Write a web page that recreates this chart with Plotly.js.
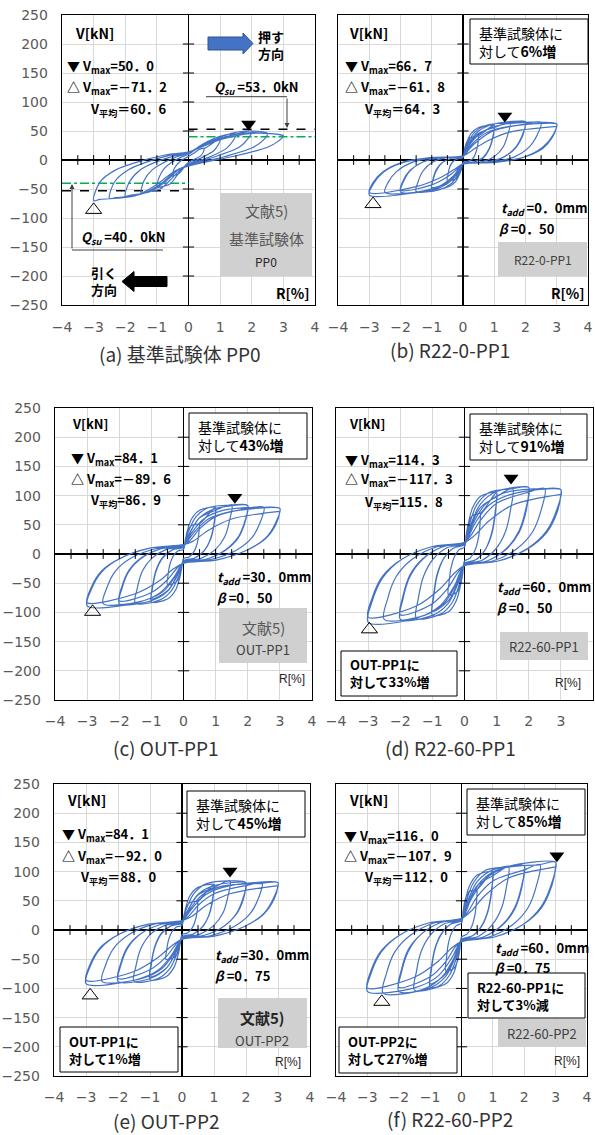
<!DOCTYPE html>
<html><head><meta charset="utf-8">
<script src="https://cdn.plot.ly/plotly-3.0.1.min.js"></script>
<style>body{margin:0;background:#fff}</style>
</head><body><div id="chart" style="width:595px;height:1135px"></div>
<script>
// ---------------- data ----------------
const xTickVals = [-4,-3,-2,-1,0,1,2,3,4];
const yTickVals = [-250,-200,-150,-100,-50,0,50,100,150,200,250];
const minorR = [-3.5,-3,-2.5,-2,-1.5,-1,-0.5,0.5,1,1.5,2,2.5,3,3.5];
const minorV = [-200,-150,-100,-50,50,100,150,200];

// (a) 基準試験体 PP0
const R_a = [0.5,0.47,0.4,0.22,0.07,-0.08,-0.2,-0.32,-0.47,-0.5,-0.47,-0.38,-0.26,-0.11,0,0.18,0.33,0.45,0.5,
 1,0.95,0.8,0.45,0.15,-0.15,-0.38,-0.6,-0.93,-1,-0.93,-0.77,-0.53,-0.23,0,0.35,0.65,0.9,1,
 1.5,1.42,1.2,0.7,0.2,-0.2,-0.55,-0.9,-1.4,-1.5,-1.4,-1.15,-0.8,-0.35,0,0.5,1.0,1.35,1.5,
 2,1.9,1.6,0.9,0.3,-0.3,-0.7,-1.2,-1.85,-2,-1.87,-1.55,-1.1,-0.45,0,0.7,1.35,1.8,2,
 2.5,2.38,2.05,1.15,0.35,-0.35,-0.85,-1.45,-2.3,-2.5,-2.33,-1.9,-1.4,-0.6,0,0.85,1.7,2.25,2.5,
 3,2.85,2.5,1.4,0.4,-0.4,-1,-1.7,-2.8,-3,-2.8,-2.3,-1.7,-0.7,0,1,2,2.7,3];
const V_a = [20,14,8,2,-2,-8,-17,-24,-27,-28,-17,-9,-2,3,6,12,18,20,20,
 36,27,16,5,-3,-12,-28,-42,-47,-48,-30,-15,-4,5,10,23,33,36,36,
 45,34,20,6,-4,-14,-33,-50,-56,-57,-35,-17,-5,6,12,29,41,45,45,
 50,38,22,7,-4,-16,-36,-54,-61,-62,-38,-18,-5,7,13,32,46,50,50,
 46,35,22,6,-5,-17,-40,-58,-65,-66,-37,-17,-5,8,13,34,46,47,46,
 42,33,22,6,-5,-18,-42,-62,-68,-70,-38,-17,-5,9,14,35,46,45,42];

// drift path of the loops in (b)-(f): 0.5, 1, 1(repeat), 1.5, 2, 2(repeat), 2.5, 3, 3(repeat) %
const R_pinch = [0.5,0.48,0.425,0.325,0.175,0,-0.05,-0.125,-0.25,-0.5,-0.48,-0.425,-0.325,-0.175,0,0.05,0.125,0.25,0.5,
 1,0.96,0.85,0.65,0.35,0,-0.1,-0.25,-0.5,-1,-0.96,-0.85,-0.65,-0.35,0,0.1,0.25,0.5,1,
 1,0.96,0.85,0.65,0.35,0,-0.1,-0.25,-0.5,-1,-0.96,-0.85,-0.65,-0.35,0,0.1,0.25,0.5,1,
 1.5,1.44,1.28,0.98,0.53,0,-0.15,-0.38,-0.75,-1.5,-1.44,-1.28,-0.98,-0.53,0,0.15,0.38,0.75,1.5,
 2,1.92,1.7,1.3,0.7,0,-0.2,-0.5,-1,-2,-1.92,-1.7,-1.3,-0.7,0,0.2,0.5,1,2,
 2,1.92,1.7,1.3,0.7,0,-0.2,-0.5,-1,-2,-1.92,-1.7,-1.3,-0.7,0,0.2,0.5,1,2,
 2.5,2.4,2.13,1.63,0.88,0,-0.25,-0.63,-1.25,-2.5,-2.4,-2.13,-1.63,-0.88,0,0.25,0.63,1.25,2.5,
 3,2.88,2.55,1.95,1.05,0,-0.3,-0.75,-1.5,-3,-2.88,-2.55,-1.95,-1.05,0,0.3,0.75,1.5,3,
 3,2.88,2.55,1.95,1.05,0,-0.3,-0.75,-1.5,-3,-2.88,-2.55,-1.95,-1.05,0,0.3,0.75,1.5,3];
// (b) R22-0-PP1
const V_b = [42,29,15,3,-2,-4,-16,-26,-33,-35,-25,-12,-3,2,4,19,32,39,42,
 60,42,21,5,-3,-5,-23,-38,-47,-50,-35,-18,-4,3,5,27,45,56,60,
 56,39,20,4,-3,-5,-14,-26,-39,-47,-33,-16,-4,3,5,17,31,46,56,
 64,45,22,5,-4,-6,-24,-41,-51,-54,-38,-19,-4,4,6,29,48,60,64,
 66,46,23,5,-4,-6,-25,-41,-52,-55,-39,-19,-4,4,6,30,50,62,66,
 62,43,22,5,-4,-6,-16,-29,-43,-52,-36,-18,-4,4,6,19,34,51,62,
 65,46,23,5,-4,-7,-25,-42,-53,-56,-39,-20,-4,4,7,29,49,61,65,
 62,43,22,5,-4,-7,-27,-45,-56,-60,-42,-21,-5,4,7,28,47,58,62,
 58,41,20,5,-4,-7,-17,-31,-46,-56,-39,-20,-4,4,7,17,32,48,58];
// (c) OUT-PP1
const V_c = [52,36,18,4,-5,-8,-23,-39,-49,-52,-36,-18,-4,5,8,23,39,49,52,
 80,56,28,6,-7,-12,-37,-62,-77,-82,-57,-29,-7,7,12,36,60,75,80,
 75,53,26,6,-7,-12,-23,-42,-63,-77,-54,-27,-6,7,12,23,41,62,75,
 84,59,29,7,-8,-14,-38,-63,-79,-84,-59,-29,-7,8,14,38,63,79,84,
 83,58,29,7,-9,-15,-38,-64,-80,-85,-60,-30,-7,9,15,37,62,78,83,
 78,55,27,6,-9,-15,-24,-44,-66,-80,-56,-28,-6,9,15,23,43,64,78,
 80,56,28,6,-9,-15,-38,-64,-80,-85,-60,-30,-7,9,15,36,60,75,80,
 78,55,27,6,-10,-16,-40,-67,-84,-89,-62,-31,-7,10,16,35,59,73,78,
 73,51,26,6,-10,-16,-25,-46,-68,-83,-58,-29,-7,10,16,22,40,60,73];
// (d) R22-60-PP1
const V_d = [70,49,25,6,-7,-12,-32,-53,-66,-70,-49,-25,-6,7,12,32,53,66,70,
 105,74,37,8,-10,-16,-47,-79,-99,-105,-74,-37,-8,10,16,47,79,99,105,
 98,69,34,8,-10,-16,-29,-54,-80,-98,-69,-34,-8,10,16,29,54,80,98,
 112,78,39,9,-11,-18,-50,-83,-103,-110,-77,-39,-9,11,18,50,84,105,112,
 114,80,40,9,-12,-20,-50,-84,-105,-112,-78,-39,-9,12,20,51,86,107,114,
 106,74,37,8,-12,-20,-31,-57,-85,-104,-73,-36,-8,12,20,32,58,87,106,
 112,78,39,9,-12,-20,-50,-84,-105,-112,-78,-39,-9,12,20,50,84,105,112,
 110,77,39,9,-12,-20,-53,-88,-110,-117,-82,-41,-9,12,20,50,83,103,110,
 102,71,36,8,-12,-20,-32,-59,-89,-108,-76,-38,-9,12,20,31,56,84,102];
// (e) OUT-PP2
const V_e = [50,35,18,4,-5,-8,-23,-38,-47,-50,-35,-18,-4,5,8,23,38,47,50,
 78,55,27,6,-7,-12,-38,-64,-80,-85,-60,-30,-7,7,12,35,59,73,78,
 73,51,26,6,-7,-12,-24,-44,-66,-80,-56,-28,-6,7,12,22,40,60,73,
 84,59,29,7,-8,-14,-40,-66,-83,-88,-62,-31,-7,8,14,38,63,79,84,
 81,57,28,6,-9,-15,-40,-66,-83,-88,-62,-31,-7,9,15,36,61,76,81,
 76,53,27,6,-9,-15,-25,-46,-68,-83,-58,-29,-7,9,15,23,42,62,76,
 80,56,28,6,-10,-16,-40,-66,-83,-88,-62,-31,-7,10,16,36,60,75,80,
 81,57,28,6,-10,-16,-41,-69,-86,-92,-64,-32,-7,10,16,36,61,76,81,
 76,53,27,6,-10,-16,-26,-47,-71,-86,-60,-30,-7,10,16,23,42,62,76];
// (f) R22-60-PP2
const V_f = [70,49,25,6,-7,-12,-32,-53,-66,-70,-49,-25,-6,7,12,32,53,66,70,
 100,70,35,8,-10,-16,-44,-74,-92,-98,-69,-34,-8,10,16,45,75,94,100,
 93,65,33,7,-10,-16,-28,-51,-75,-92,-64,-32,-7,10,16,28,51,76,93,
 108,76,38,9,-11,-18,-46,-77,-97,-103,-72,-36,-8,11,18,49,81,102,108,
 110,77,39,9,-12,-20,-47,-79,-99,-105,-74,-37,-8,12,20,50,83,103,110,
 103,72,36,8,-12,-20,-29,-54,-80,-98,-69,-34,-8,12,20,31,57,84,103,
 112,78,39,9,-12,-20,-49,-81,-102,-108,-76,-38,-9,12,20,50,84,105,112,
 116,81,41,9,-12,-20,-47,-79,-99,-105,-74,-37,-8,12,20,52,87,109,116,
 108,76,38,9,-12,-20,-30,-54,-81,-99,-69,-35,-8,12,20,32,59,89,108];

// peak markers ▼ (positive) / △ (negative), panels a..f
const downR = [1.9,1.34,1.6,1.45,1.5,3.04];
const downV = [62,76,97,130,101,127];
const upR = [-3.0,-2.88,-2.83,-2.96,-2.87,-2.54];
const upV = [-86,-76,-99,-129,-112,-123];

// Qsu levels, panel (a)
const qsuBlack = 53.0;
const qsuGreen = 40.0;

// ---------------- layout helpers ----------------
const W = 595, H = 1135;
const px = x => x / W, py = y => 1 - y / H;
const JP = 'Noto Sans CJK JP';
const BLUE = '#4472C4';

const panels = [
  {xd:[62,315],  yd:[15,305],   ylab:true,  R:R_a, V:V_a, so:9},
  {xd:[338,588], yd:[15,305],   ylab:false, R:R_pinch, V:V_b, so:9},
  {xd:[55,312],  yd:[408,700],  ylab:true,  R:R_pinch, V:V_c, so:8},
  {xd:[336,593], yd:[408,700],  ylab:false, R:R_pinch, V:V_d, so:8},
  {xd:[54,310],  yd:[784,1076], ylab:true,  R:R_pinch, V:V_e, so:8},
  {xd:[336,587], yd:[784,1076], ylab:false, R:R_pinch, V:V_f, so:8}
];

const traces = [];
const layout = {
  width: W, height: H, margin:{l:0,r:0,t:0,b:0},
  paper_bgcolor:'#fff', plot_bgcolor:'#fff',
  showlegend:false, hovermode:false, annotations:[], shapes:[]
};

panels.forEach((p, i) => {
  const n = i === 0 ? '' : String(i + 1);
  const xa = 'x' + n, ya = 'y' + n;
  layout['xaxis' + n] = {
    domain:[px(p.xd[0]), px(p.xd[1])], anchor: ya, range:[-4,4],
    tickvals: xTickVals, showgrid:true, gridcolor:'#d9d9d9', gridwidth:1,
    zeroline:true, zerolinecolor:'#000', zerolinewidth:1.2,
    showline:true, mirror:true, linecolor:'#000', linewidth:1.3,
    ticks:'', ticklabelstandoff:p.so,
    tickfont:{family:'DejaVu Sans', size:14, color:'#595959'}, fixedrange:true
  };
  layout['yaxis' + n] = {
    domain:[py(p.yd[1]), py(p.yd[0])], anchor: xa, range:[-250,250],
    tickvals: yTickVals, showgrid:true, gridcolor:'#d9d9d9', gridwidth:1,
    zeroline:true, zerolinecolor:'#000', zerolinewidth:1.2,
    showline:true, mirror:true, linecolor:'#000', linewidth:1.3,
    ticks:'', showticklabels:p.ylab, ticklabelstandoff:10,
    tickfont:{family:'DejaVu Sans', size:14, color:'#595959'}, fixedrange:true
  };
  if (i === 0) {
    traces.push({x:[0,4], y:[qsuBlack,qsuBlack], xaxis:xa, yaxis:ya, mode:'lines',
      line:{color:'#000', width:1.3, dash:'dash'}});
    traces.push({x:[-4,0], y:[-qsuBlack,-qsuBlack], xaxis:xa, yaxis:ya, mode:'lines',
      line:{color:'#000', width:1.3, dash:'dash'}});
    traces.push({x:[0,4], y:[qsuGreen,qsuGreen], xaxis:xa, yaxis:ya, mode:'lines',
      line:{color:'#00B050', width:1.5, dash:'dashdot'}});
    traces.push({x:[-4,0], y:[-qsuGreen,-qsuGreen], xaxis:xa, yaxis:ya, mode:'lines',
      line:{color:'#00B050', width:1.5, dash:'dashdot'}});
  }
  traces.push({x:p.R, y:p.V, xaxis:xa, yaxis:ya, mode:'lines',
    line:{color:BLUE, width:1.2, shape:'spline', smoothing:0.9}});
  traces.push({x:minorR, y:minorR.map(() => 0), xaxis:xa, yaxis:ya, mode:'markers',
    marker:{symbol:'line-ns', size:7, line:{color:'#000', width:1}}});
  traces.push({x:minorV.map(() => 0), y:minorV, xaxis:xa, yaxis:ya, mode:'markers',
    marker:{symbol:'line-ew', size:8, line:{color:'#000', width:1}}});
  traces.push({x:[downR[i]], y:[downV[i]], xaxis:xa, yaxis:ya, mode:'markers',
    marker:{symbol:'triangle-down', size:13, color:'#000'}});
  traces.push({x:[upR[i]], y:[upV[i]], xaxis:xa, yaxis:ya, mode:'markers',
    marker:{symbol:'triangle-up-open', size:14, color:'#000', line:{width:1}}});
});

const A = layout.annotations, S = layout.shapes;
function T(text, x, y, o) {
  o = o || {};
  A.push({xref:'paper', yref:'paper', x:px(x), y:py(y), text:text, showarrow:false,
    xanchor:o.xa || 'left', yanchor:'middle', align:o.align || 'left',
    font:{family:o.family || JP, size:o.size || 13, color:o.color || '#000'}});
}
function box(x0, x1, y0, y1, fill, border) {
  S.push({type:'rect', xref:'paper', yref:'paper', x0:px(x0), x1:px(x1), y0:py(y1), y1:py(y0),
    fillcolor:fill, line:{color:border || fill, width:border ? 1 : 0}, layer:'above'});
}
function poly(pts, fill, line) {
  const d = pts.map((q, k) => (k ? 'L' : 'M') + px(q[0]) + ',' + py(q[1])).join(' ') + ' Z';
  S.push({type:'path', xref:'paper', yref:'paper', path:d, fillcolor:fill,
    line:{color:line, width:1}, layer:'above'});
}
function seg(x0, y0, x1, y1, color) {
  S.push({type:'line', xref:'paper', yref:'paper', x0:px(x0), y0:py(y0), x1:px(x1), y1:py(y1),
    line:{color:color, width:1}, layer:'above'});
}
function arrowTo(x, y, ax, ay) {
  A.push({xref:'paper', yref:'paper', x:px(x), y:py(y), ax:ax, ay:ay, text:'', showarrow:true,
    arrowhead:2, arrowsize:1, arrowwidth:1, arrowcolor:'#404040'});
}
const GRAY = '#d0d0d0', TXTG = '#595959';
const cap = {size:19, color:'#333', xa:'center', align:'center'};

// ---- (a)
T('<b>V[kN]</b>', 73, 33, {size:14});
T('<b>▼ V<sub>max</sub>=50．0</b>', 65, 67);
T('<b>△ V<sub>max</sub>=－71．2</b>', 65, 88);
T('<b>V<sub>平均</sub>＝60．6</b>', 88, 110);
box(220, 312, 193, 276, GRAY);
T('文献5)', 266, 211, {xa:'center', size:15, color:TXTG});
T('基準試験体', 266, 238, {xa:'center', size:15, color:TXTG});
T('PP0', 266, 262, {xa:'center', size:12, color:'#262626'});
T('<b>R[%]</b>', 312, 293, {xa:'right', size:14});
poly([[208,37],[243,37],[243,33],[253,43.5],[243,54],[243,50],[208,50]], BLUE, '#2F528F');
T('<b>押す<br>方向</b>', 256, 45);
poly([[122,281.5],[134,271.5],[134,276.5],[167,276.5],[167,286.5],[134,286.5],[134,291.5]], '#000', '#000');
T('<b>引く<br>方向</b>', 89, 281);
T('<b><i>Q</i><sub><i>su</i></sub> =53．0kN</b>', 212, 87);
T('<b><i>Q</i><sub><i>su</i></sub> =40．0kN</b>', 79, 237);
seg(206, 96.7, 287, 96.7, '#404040');
arrowTo(287, 128, 0, -31);
seg(72, 250, 163, 250, '#404040');
arrowTo(72, 184, 0, 66);
T('(a) 基準試験体 PP0', 180, 353, cap);

// ---- (b)
T('<b>V[kN]</b>', 347, 33, {size:14});
T('<b>▼ V<sub>max</sub>=66．7</b>', 343, 67);
T('<b>△ V<sub>max</sub>=－61．8</b>', 343, 88);
T('<b>V<sub>平均</sub>＝64．3</b>', 362, 110);
box(470, 588, 19, 64, '#fff', '#000');
T('基準試験体に<br>対して<b>6%増</b>', 477, 42, {size:14});
T('<b><i>t</i><sub><i>add</i></sub> =0．0mm</b>', 499, 208);
T('<b><i>β</i> =0．50</b>', 497, 228);
box(498, 587, 242, 276, GRAY);
T('R22-0-PP1', 543, 259, {xa:'center', size:12, color:'#404040'});
T('<b>R[%]</b>', 587, 293, {xa:'right', size:14});
T('(b) R22-0-PP1', 450, 350, cap);

// ---- (c)
T('<b>V[kN]</b>', 70, 423);
T('<b>▼ V<sub>max</sub>=84．1</b>', 69, 459);
T('<b>△ V<sub>max</sub>=－89．6</b>', 69, 480);
T('<b>V<sub>平均</sub>=86．9</b>', 88, 500);
box(189, 307, 413, 459, '#fff', '#000');
T('基準試験体に<br>対して<b>43%増</b>', 196, 436, {size:14});
T('<b><i>t</i><sub><i>add</i></sub> =30．0mm</b>', 215, 577);
T('<b><i>β</i> =0．50</b>', 215, 597);
box(219, 307, 608, 663, GRAY);
T('文献5)', 263, 627, {xa:'center', size:15, color:TXTG});
T('OUT-PP1', 263, 649, {xa:'center', size:13, color:'#404040'});
T('R[%]', 307, 679, {xa:'right', size:12, family:'Liberation Sans', color:'#262626'});
T('(c) OUT-PP1', 166, 748, cap);

// ---- (d)
T('<b>V[kN]</b>', 347, 423);
T('<b>▼ V<sub>max</sub>=114．3</b>', 343, 460);
T('<b>△ V<sub>max</sub>=－117．3</b>', 343, 480);
T('<b>V<sub>平均</sub>=115．8</b>', 362, 502);
box(470, 587, 414, 460, '#fff', '#000');
T('基準試験体に<br>対して<b>91%増</b>', 477, 437, {size:14});
T('<b><i>t</i><sub><i>add</i></sub> =60．0mm</b>', 495, 587);
T('<b><i>β</i> =0．50</b>', 495, 607);
box(500, 588, 632, 660, GRAY);
T('R22-60-PP1', 544, 646, {xa:'center', size:13, color:'#404040'});
T('R[%]', 583, 683, {xa:'right', size:12, family:'Liberation Sans', color:'#262626'});
box(341, 457, 651, 696, '#fff', '#000');
T('<b>OUT-PP1に<br>対して33%増</b>', 348, 673);
T('(d) R22-60-PP1', 450, 747, cap);

// ---- (e)
T('<b>V[kN]</b>', 65, 800, {size:14});
T('<b>▼ V<sub>max</sub>=84．1</b>', 60, 834);
T('<b>△ V<sub>max</sub>=－92．0</b>', 60, 856);
T('<b>V<sub>平均</sub>＝88．0</b>', 78, 877);
box(187, 305, 791, 837, '#fff', '#000');
T('基準試験体に<br>対して<b>45%増</b>', 194, 814, {size:14});
T('<b><i>t</i><sub><i>add</i></sub> =30．0mm</b>', 213, 955);
T('<b><i>β</i> =0．75</b>', 213, 975);
box(218, 307, 998, 1048, GRAY);
T('<b>文献5)</b>', 262, 1017, {xa:'center', size:15, color:'#262626'});
T('OUT-PP2', 262, 1040, {xa:'center', size:13, color:'#404040'});
T('R[%]', 303, 1062, {xa:'right', size:12, family:'Liberation Sans', color:'#262626'});
box(60, 178, 1027, 1072, '#fff', '#000');
T('<b>OUT-PP1に<br>対して1%増</b>', 67, 1050);
T('(e) OUT-PP2', 166, 1120, cap);

// ---- (f)
T('<b>V[kN]</b>', 347, 800, {size:14});
T('<b>▼ V<sub>max</sub>=116．0</b>', 342, 836);
T('<b>△ V<sub>max</sub>=－107．9</b>', 342, 856);
T('<b>V<sub>平均</sub>＝112．0</b>', 362, 877);
box(467, 585, 789, 835, '#fff', '#000');
T('基準試験体に<br>対して<b>85%増</b>', 474, 812, {size:14});
T('<b><i>t</i><sub><i>add</i></sub> =60．0mm</b>', 493, 948);
T('<b><i>β</i> =0．75</b>', 493, 967);
box(468, 585, 973, 1018, '#fff', '#000');
T('<b>R22-60-PP1に<br>対して3%減</b>', 475, 996);
box(498, 586, 1019, 1047, GRAY);
T('R22-60-PP2', 542, 1033, {xa:'center', size:13, color:'#404040'});
T('R[%]', 582, 1061, {xa:'right', size:12, family:'Liberation Sans', color:'#262626'});
box(339, 457, 1027, 1073, '#fff', '#000');
T('<b>OUT-PP2に<br>対して27%増</b>', 346, 1050);
T('(f) R22-60-PP2', 450, 1118, cap);

Plotly.newPlot('chart', traces, layout, {staticPlot:true, displayModeBar:false});
</script>
</body></html>
